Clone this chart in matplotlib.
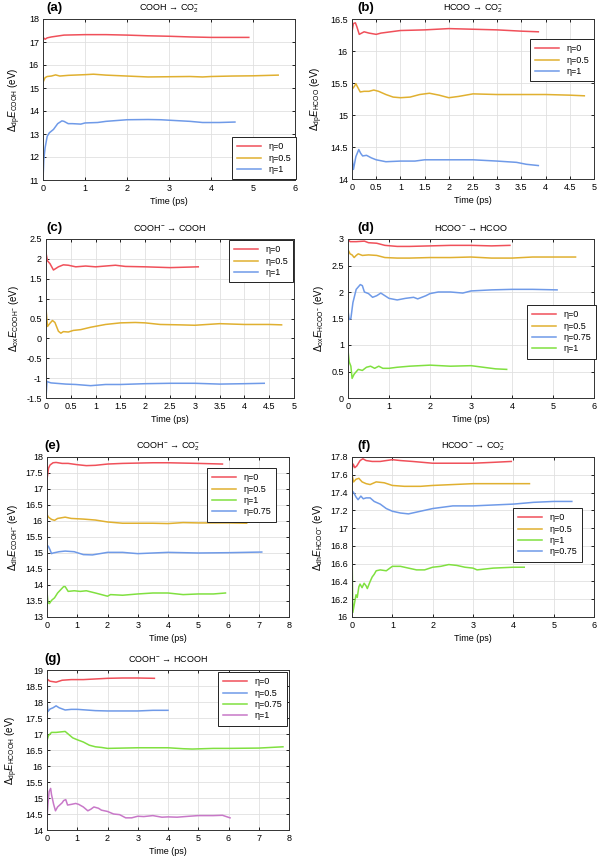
import matplotlib
matplotlib.use("Agg")
import matplotlib.pyplot as plt

plt.rcParams["font.family"] = ["Liberation Sans", "DejaVu Sans"]
plt.rcParams["mathtext.fontset"] = "custom"
plt.rcParams["mathtext.rm"] = "Liberation Sans"
plt.rcParams["mathtext.it"] = "Liberation Sans:italic"
plt.rcParams["mathtext.bf"] = "Liberation Sans:bold"

RED = "#f0505a"
YEL = "#e0b030"
BLU = "#6f9ae8"
GRN = "#80e040"
PUR = "#c878c8"

# ---- (a) COOH -> CO2-
a_t0 = [0, 0.05, 0.1, 0.2, 0.5, 1.0, 1.5, 2.0, 2.5, 3.0, 3.5, 4.0, 4.5, 4.9]
a_e0 = [17.2, 17.12, 17.18, 17.22, 17.3, 17.32, 17.32, 17.3, 17.27, 17.25, 17.22, 17.2, 17.2, 17.2]
a_t1 = [0, 0.05, 0.1, 0.2, 0.3, 0.4, 0.6, 1.0, 1.2, 1.5, 2.0, 2.5, 3.0, 3.5, 3.8, 4.0, 4.5, 5.0, 5.6]
a_e1 = [15.25, 15.45, 15.5, 15.52, 15.57, 15.52, 15.55, 15.58, 15.6, 15.56, 15.52, 15.48, 15.49, 15.5, 15.48, 15.5, 15.52, 15.53, 15.56]
a_t2 = [0, 0.02, 0.05, 0.1, 0.15, 0.25, 0.35, 0.45, 0.5, 0.6, 0.7, 0.9, 1.0, 1.3, 1.5, 2.0, 2.5, 2.8, 3.0, 3.5, 3.8, 4.2, 4.57]
a_e2 = [11.0, 11.9, 12.4, 12.9, 13.05, 13.2, 13.45, 13.57, 13.55, 13.45, 13.45, 13.43, 13.48, 13.5, 13.55, 13.62, 13.63, 13.62, 13.6, 13.55, 13.5, 13.5, 13.52]

# ---- (b) HCOO -> CO2-
b_t0 = [0, 0.03, 0.07, 0.1, 0.15, 0.2, 0.25, 0.35, 0.5, 0.6, 0.8, 1.0, 1.5, 2.0, 2.5, 3.0, 3.5, 3.85]
b_e0 = [16.3, 16.43, 16.44, 16.38, 16.26, 16.28, 16.3, 16.28, 16.26, 16.28, 16.3, 16.32, 16.33, 16.35, 16.34, 16.33, 16.31, 16.3]
b_t1 = [0, 0.05, 0.08, 0.12, 0.17, 0.25, 0.35, 0.45, 0.55, 0.7, 0.85, 1.0, 1.2, 1.4, 1.6, 1.8, 2.0, 2.2, 2.5, 3.0, 3.5, 4.0, 4.5, 4.8]
b_e1 = [15.4, 15.45, 15.49, 15.43, 15.36, 15.37, 15.37, 15.39, 15.37, 15.32, 15.28, 15.27, 15.28, 15.32, 15.34, 15.31, 15.27, 15.29, 15.33, 15.32, 15.32, 15.32, 15.31, 15.3]
b_t2 = [0, 0.03, 0.08, 0.14, 0.18, 0.22, 0.3, 0.4, 0.5, 0.7, 1.0, 1.3, 1.5, 2.0, 2.5, 3.0, 3.4, 3.6, 3.85]
b_e2 = [14.35, 14.15, 14.35, 14.46, 14.4, 14.36, 14.37, 14.33, 14.3, 14.27, 14.28, 14.28, 14.3, 14.3, 14.3, 14.28, 14.26, 14.23, 14.21]

# ---- (c) COOH- -> COOH
c_t0 = [0, 0.03, 0.08, 0.15, 0.25, 0.35, 0.45, 0.6, 0.8, 1.0, 1.2, 1.4, 1.6, 2.0, 2.5, 3.07]
c_e0 = [2.15, 1.95, 1.88, 1.72, 1.8, 1.85, 1.84, 1.8, 1.82, 1.8, 1.82, 1.84, 1.81, 1.8, 1.78, 1.8]
c_t1 = [0, 0.03, 0.08, 0.13, 0.18, 0.25, 0.3, 0.35, 0.45, 0.55, 0.7, 0.9, 1.2, 1.5, 1.8, 2.0, 2.3, 2.7, 3.0, 3.5, 4.0, 4.5, 4.75]
c_e1 = [0.75, 0.3, 0.38, 0.45, 0.4, 0.18, 0.13, 0.17, 0.16, 0.2, 0.22, 0.28, 0.35, 0.39, 0.4, 0.39, 0.35, 0.34, 0.33, 0.37, 0.35, 0.35, 0.34]
c_t2 = [0, 0.02, 0.05, 0.1, 0.2, 0.4, 0.6, 0.9, 1.2, 1.5, 2.0, 2.5, 3.0, 3.5, 4.0, 4.4]
c_e2 = [-1.5, -1.08, -1.1, -1.12, -1.13, -1.15, -1.16, -1.19, -1.16, -1.16, -1.14, -1.13, -1.13, -1.15, -1.14, -1.13]

# ---- (d) HCOO- -> HCOO
d_t0 = [0, 0.05, 0.2, 0.4, 0.5, 0.7, 0.9, 1.2, 1.5, 2.0, 2.5, 3.0, 3.5, 3.95]
d_e0 = [3.0, 2.95, 2.95, 2.96, 2.93, 2.92, 2.88, 2.86, 2.86, 2.87, 2.88, 2.88, 2.87, 2.88]
d_t1 = [0, 0.05, 0.1, 0.15, 0.2, 0.25, 0.35, 0.5, 0.7, 0.9, 1.2, 1.5, 2.0, 2.5, 3.0, 3.5, 4.0, 4.5, 5.0, 5.55]
d_e1 = [2.8, 2.72, 2.7, 2.65, 2.69, 2.72, 2.69, 2.7, 2.69, 2.65, 2.64, 2.64, 2.65, 2.65, 2.66, 2.64, 2.64, 2.66, 2.66, 2.66]
d_t2 = [0, 0.03, 0.07, 0.12, 0.2, 0.3, 0.35, 0.4, 0.5, 0.6, 0.7, 0.8, 0.9, 1.0, 1.2, 1.4, 1.6, 1.7, 1.9, 2.0, 2.2, 2.5, 2.8, 3.0, 3.5, 4.0, 4.5, 5.1]
d_e2 = [1.65, 1.48, 1.5, 1.8, 2.05, 2.14, 2.12, 2.0, 1.97, 1.9, 1.93, 1.98, 1.93, 1.88, 1.85, 1.88, 1.9, 1.87, 1.93, 1.97, 2.0, 2.0, 1.98, 2.02, 2.04, 2.05, 2.05, 2.04]
d_t3 = [0, 0.03, 0.07, 0.1, 0.15, 0.25, 0.35, 0.45, 0.55, 0.65, 0.75, 0.85, 1.0, 1.2, 1.5, 2.0, 2.5, 3.0, 3.3, 3.6, 3.87]
d_e3 = [0.9, 0.68, 0.6, 0.37, 0.45, 0.54, 0.52, 0.58, 0.6, 0.56, 0.6, 0.56, 0.56, 0.58, 0.6, 0.62, 0.6, 0.61, 0.58, 0.55, 0.54]

# ---- (e) COOH- -> CO2-
e_t0 = [0, 0.05, 0.1, 0.2, 0.3, 0.5, 0.7, 1.0, 1.3, 1.6, 2.0, 2.5, 3.0, 3.5, 4.0, 4.5, 5.0, 5.8]
e_e0 = [17.3, 17.65, 17.75, 17.82, 17.83, 17.8, 17.8, 17.76, 17.73, 17.74, 17.78, 17.8, 17.81, 17.82, 17.82, 17.81, 17.8, 17.78]
e_t1 = [0, 0.05, 0.15, 0.25, 0.35, 0.6, 0.8, 1.2, 1.6, 2.0, 2.5, 3.0, 3.5, 4.0, 4.5, 5.0, 5.5, 6.0, 6.6]
e_e1 = [16.2, 16.12, 16.05, 16.02, 16.08, 16.12, 16.08, 16.06, 16.03, 15.97, 15.93, 15.93, 15.93, 15.92, 15.95, 15.94, 15.94, 15.94, 15.93]
e_t2 = [0, 0.03, 0.08, 0.15, 0.25, 0.35, 0.45, 0.55, 0.6, 0.7, 0.9, 1.1, 1.3, 1.6, 2.0, 2.1, 2.5, 3.0, 3.5, 4.0, 4.5, 5.0, 5.5, 5.9]
e_e2 = [13.8, 13.45, 13.42, 13.52, 13.6, 13.75, 13.85, 13.95, 13.95, 13.8, 13.82, 13.8, 13.82, 13.75, 13.65, 13.7, 13.68, 13.72, 13.75, 13.75, 13.7, 13.72, 13.72, 13.75]
e_t3 = [0, 0.05, 0.1, 0.15, 0.2, 0.4, 0.6, 0.9, 1.2, 1.5, 2.0, 2.5, 3.0, 3.5, 4.0, 5.0, 6.0, 7.1]
e_e3 = [15.25, 15.2, 15.1, 14.98, 15.0, 15.04, 15.06, 15.04, 14.95, 14.94, 15.02, 15.02, 14.98, 15.0, 15.02, 15.0, 15.01, 15.03]

# ---- (f) HCOO- -> CO2-
f_t0 = [0, 0.03, 0.07, 0.12, 0.2, 0.27, 0.35, 0.5, 0.7, 1.0, 1.2, 1.5, 2.0, 2.5, 3.0, 3.5, 3.95]
f_e0 = [17.65, 17.72, 17.68, 17.7, 17.76, 17.78, 17.76, 17.75, 17.75, 17.77, 17.76, 17.75, 17.73, 17.73, 17.73, 17.74, 17.75]
f_t1 = [0, 0.04, 0.1, 0.17, 0.25, 0.35, 0.45, 0.6, 0.8, 1.0, 1.3, 1.7, 2.0, 2.5, 3.0, 3.5, 4.0, 4.4]
f_e1 = [17.6, 17.52, 17.55, 17.56, 17.52, 17.5, 17.49, 17.52, 17.51, 17.48, 17.47, 17.47, 17.48, 17.49, 17.5, 17.5, 17.5, 17.5]
f_t2 = [0, 0.02, 0.06, 0.1, 0.13, 0.17, 0.2, 0.25, 0.3, 0.35, 0.38, 0.45, 0.5, 0.55, 0.6, 0.7, 0.85, 1.0, 1.2, 1.3, 1.4, 1.6, 1.8, 2.0, 2.2, 2.4, 2.6, 2.8, 3.0, 3.1, 3.5, 4.0, 4.27]
f_e2 = [16.8, 16.05, 16.15, 16.25, 16.22, 16.34, 16.37, 16.33, 16.38, 16.35, 16.32, 16.4, 16.45, 16.48, 16.52, 16.53, 16.52, 16.57, 16.57, 16.56, 16.55, 16.53, 16.53, 16.56, 16.57, 16.59, 16.58, 16.56, 16.55, 16.53, 16.55, 16.56, 16.56]
f_t3 = [0, 0.04, 0.1, 0.15, 0.22, 0.28, 0.35, 0.45, 0.55, 0.7, 0.85, 1.0, 1.2, 1.4, 1.6, 1.8, 2.0, 2.5, 3.0, 3.5, 4.0, 4.5, 5.0, 5.45]
f_e3 = [17.42, 17.4, 17.35, 17.32, 17.36, 17.33, 17.34, 17.34, 17.3, 17.27, 17.22, 17.19, 17.17, 17.16, 17.18, 17.2, 17.22, 17.25, 17.25, 17.26, 17.27, 17.29, 17.3, 17.3]

# ---- (g) COOH- -> HCOOH
g_t0 = [0, 0.03, 0.1, 0.3, 0.5, 0.8, 1.2, 1.6, 2.0, 2.5, 3.0, 3.55]
g_e0 = [18.6, 18.7, 18.65, 18.62, 18.68, 18.7, 18.7, 18.72, 18.74, 18.75, 18.75, 18.74]
g_t1 = [0, 0.03, 0.1, 0.2, 0.3, 0.4, 0.6, 0.8, 1.0, 1.3, 1.6, 2.0, 2.5, 3.0, 3.5, 4.0]
g_e1 = [18.05, 17.7, 17.78, 17.82, 17.88, 17.82, 17.75, 17.77, 17.77, 17.75, 17.73, 17.72, 17.72, 17.72, 17.74, 17.74]
g_t2 = [0, 0.05, 0.15, 0.3, 0.5, 0.6, 0.7, 0.85, 1.0, 1.2, 1.4, 1.6, 1.8, 2.0, 2.5, 3.0, 3.5, 4.0, 4.5, 4.8, 5.5, 6.0, 7.0, 7.8]
g_e2 = [16.8, 16.95, 17.05, 17.05, 17.07, 17.08, 17.0, 16.88, 16.82, 16.75, 16.65, 16.6, 16.58, 16.55, 16.56, 16.57, 16.57, 16.57, 16.54, 16.53, 16.55, 16.55, 16.56, 16.6]
g_t3 = [0, 0.03, 0.07, 0.12, 0.15, 0.22, 0.28, 0.35, 0.42, 0.5, 0.55, 0.62, 0.68, 0.8, 0.95, 1.05, 1.2, 1.35, 1.45, 1.55, 1.7, 1.8, 2.0, 2.2, 2.4, 2.6, 2.8, 3.0, 3.2, 3.5, 3.8, 4.0, 4.3, 4.7, 5.0, 5.5, 5.8, 6.05]
g_e3 = [14.35, 14.8, 15.2, 15.3, 15.1, 14.8, 14.6, 14.72, 14.78, 14.85, 14.92, 14.95, 14.78, 14.8, 14.83, 14.8, 14.72, 14.6, 14.65, 14.72, 14.68, 14.62, 14.58, 14.5, 14.48, 14.38, 14.38, 14.43, 14.42, 14.45, 14.4, 14.41, 14.4, 14.43, 14.45, 14.45, 14.46, 14.38]

fig = plt.figure(figsize=(6, 8.57), dpi=100)
W, H = 600, 857


def px_axes(l, t, r, b):
    return fig.add_axes([l / W, 1 - b / H, (r - l) / W, (b - t) / H])


def style(ax, letter, title, ylabel, xlim, ylim, xticks, yticks, lx=0):
    ax.set_xlim(xlim)
    ax.set_ylim(ylim)
    ax.set_xticks(xticks)
    ax.set_yticks(yticks)
    ax.set_xticklabels([f"{v:g}" for v in xticks])
    ax.set_yticklabels([f"{v:g}" for v in yticks])
    ax.grid(True, color="#e0e0e0", linewidth=0.6)
    ax.set_axisbelow(True)
    ax.tick_params(direction="in", length=2.5, width=0.6, labelsize=6.5, pad=3,
                   top=True, right=True)
    for s in ax.spines.values():
        s.set_linewidth(0.7)
        s.set_color("#333333")
    ax.set_xlabel("Time (ps)", fontsize=6.5, labelpad=3)
    ax.set_ylabel(ylabel, fontsize=7, labelpad=4)
    ax.set_title(title, fontsize=6.5, pad=6)
    ax.annotate(letter, xy=(0, 1), xycoords="axes fraction",
                xytext=(lx, 5), textcoords="offset pixels", fontsize=9.5,
                fontweight="bold", ha="left", va="bottom")


def legend(ax, x, y):
    lg = ax.legend(loc="upper left", bbox_to_anchor=(x / W, 1 - y / H),
                   bbox_transform=fig.transFigure, borderaxespad=0,
                   fontsize=6.5, fancybox=False, framealpha=1,
                   edgecolor="#222222", handlelength=2.6, handletextpad=0.8,
                   labelspacing=0.25, borderpad=0.6)
    lg.get_frame().set_linewidth(0.7)


LW = 1.1
M = "$^{-}$"

ax = px_axes(43, 19, 295, 180)
ax.plot(a_t0, a_e0, color=RED, lw=LW, label="η=0")
ax.plot(a_t1, a_e1, color=YEL, lw=LW, label="η=0.5")
ax.plot(a_t2, a_e2, color=BLU, lw=LW, label="η=1")
style(ax, "(a)", "COOH → CO$_2^{-}$", r"$\Delta_{\rm dp}E_{\rm COOH}$ (eV)",
      (0, 6), (11, 18), range(0, 7), range(11, 19), lx=3)
legend(ax, 232, 137)

ax = px_axes(352, 19, 594, 179)
ax.plot(b_t0, b_e0, color=RED, lw=LW, label="η=0")
ax.plot(b_t1, b_e1, color=YEL, lw=LW, label="η=0.5")
ax.plot(b_t2, b_e2, color=BLU, lw=LW, label="η=1")
style(ax, "(b)", "HCOO → CO$_2^{-}$", r"$\Delta_{\rm dp}E_{\rm HCOO}$ (eV)",
      (0, 5), (14, 16.5), [i * 0.5 for i in range(11)], [14, 14.5, 15, 15.5, 16, 16.5], lx=5)
legend(ax, 530, 39)

ax = px_axes(46, 239, 294, 398)
ax.plot(c_t0, c_e0, color=RED, lw=LW, label="η=0")
ax.plot(c_t1, c_e1, color=YEL, lw=LW, label="η=0.5")
ax.plot(c_t2, c_e2, color=BLU, lw=LW, label="η=1")
style(ax, "(c)", "COOH" + M + " → COOH", r"$\Delta_{\rm ox}E_{\rm COOH^{-}}$ (eV)",
      (0, 5), (-1.5, 2.5), [i * 0.5 for i in range(11)], [-1.5 + i * 0.5 for i in range(9)])
legend(ax, 229, 240)

ax = px_axes(348, 239, 594, 398)
ax.plot(d_t0, d_e0, color=RED, lw=LW, label="η=0")
ax.plot(d_t1, d_e1, color=YEL, lw=LW, label="η=0.5")
ax.plot(d_t2, d_e2, color=BLU, lw=LW, label="η=0.75")
ax.plot(d_t3, d_e3, color=GRN, lw=LW, label="η=1")
style(ax, "(d)", "HCOO" + M + " → HCOO", r"$\Delta_{\rm ox}E_{\rm HCOO^{-}}$ (eV)",
      (0, 6), (0, 3), range(0, 7), [i * 0.5 for i in range(7)], lx=9)
legend(ax, 527, 305)

ax = px_axes(47, 457, 289, 617)
ax.plot(e_t0, e_e0, color=RED, lw=LW, label="η=0")
ax.plot(e_t1, e_e1, color=YEL, lw=LW, label="η=0.5")
ax.plot(e_t2, e_e2, color=GRN, lw=LW, label="η=1")
ax.plot(e_t3, e_e3, color=BLU, lw=LW, label="η=0.75")
style(ax, "(e)", "COOH" + M + " → CO$_2^{-}$", r"$\Delta_{\rm dh}E_{\rm COOH^{-}}$ (eV)",
      (0, 8), (13, 18), range(0, 9), [13 + i * 0.5 for i in range(11)], lx=-3)
legend(ax, 207, 468)

ax = px_axes(352, 457, 594, 617)
ax.plot(f_t0, f_e0, color=RED, lw=LW, label="η=0")
ax.plot(f_t1, f_e1, color=YEL, lw=LW, label="η=0.5")
ax.plot(f_t2, f_e2, color=GRN, lw=LW, label="η=1")
ax.plot(f_t3, f_e3, color=BLU, lw=LW, label="η=0.75")
style(ax, "(f)", "HCOO" + M + " → CO$_2^{-}$", r"$\Delta_{\rm dh}E_{\rm HCOO^{-}}$ (eV)",
      (0, 6), (16, 17.8), range(0, 7), [round(16 + i * 0.2, 1) for i in range(10)], lx=5)
legend(ax, 513, 508)

ax = px_axes(47, 670, 289, 830)
ax.plot(g_t0, g_e0, color=RED, lw=LW, label="η=0")
ax.plot(g_t1, g_e1, color=BLU, lw=LW, label="η=0.5")
ax.plot(g_t2, g_e2, color=GRN, lw=LW, label="η=0.75")
ax.plot(g_t3, g_e3, color=PUR, lw=LW, label="η=1")
style(ax, "(g)", "COOH" + M + " → HCOOH", r"$\Delta_{\rm dp}E_{\rm HCOOH}$ (eV)",
      (0, 8), (14, 19), range(0, 9), [14 + i * 0.5 for i in range(11)], lx=-3)
legend(ax, 218, 672)

fig.savefig("out.png", dpi=100)
